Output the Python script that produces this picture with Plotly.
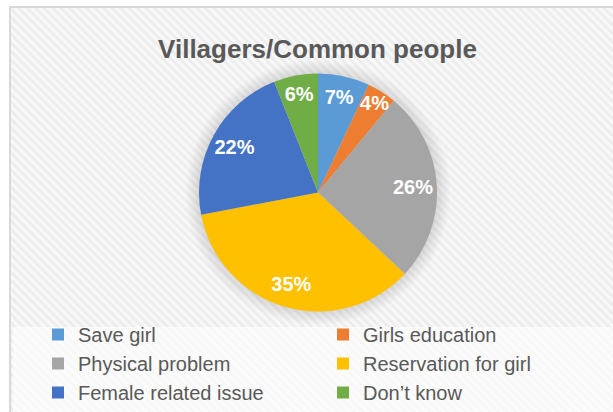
import base64
import plotly.graph_objects as go

# ---- data ----
categories = ["Save girl", "Girls education", "Physical problem",
              "Reservation for girl", "Female related issue", "Don’t know"]
values = [7, 4, 26, 35, 22, 6]
colors = ["#5B9BD5", "#ED7D31", "#A5A5A5", "#FFC000", "#4472C4", "#70AD47"]
title_text = "Villagers/Common people"

W, H = 613, 412
cx, cy, r = 318, 192.5, 119
FONT = "Arial, Liberation Sans, sans-serif"

# ---- background (hatched chart area, border, soft pie glow, lighter legend box) ----
svg = f"""<svg xmlns='http://www.w3.org/2000/svg' width='{W}' height='{H}' viewBox='0 0 {W} {H}'>
<defs>
<pattern id='p' width='6' height='6' patternUnits='userSpaceOnUse' patternTransform='rotate(-45)'>
<rect width='6' height='6' fill='#f8f8f8'/><rect width='3' height='6' fill='#ededed'/>
</pattern>
<radialGradient id='g' cx='{cx}' cy='{cy}' r='{r+14}' gradientUnits='userSpaceOnUse'>
<stop offset='0' stop-color='#000' stop-opacity='0.14'/>
<stop offset='{r/(r+14):.3f}' stop-color='#000' stop-opacity='0.12'/>
<stop offset='1' stop-color='#000' stop-opacity='0'/>
</radialGradient>
</defs>
<rect width='{W}' height='{H}' fill='#ffffff'/>
<rect x='10' y='7' width='{W+20}' height='{H+20}' fill='url(#p)' stroke='#d9d9d9' stroke-width='2'/>
<circle cx='{cx}' cy='{cy}' r='{r+14}' fill='url(#g)'/>
<rect x='13' y='327' width='{W}' height='{H}' fill='#ffffff' fill-opacity='0.6'/>
</svg>"""
src = "data:image/svg+xml;base64," + base64.b64encode(svg.encode()).decode()

domain = dict(x=[(cx - r) / W, (cx + r) / W], y=[(H - cy - r) / H, (H - cy + r) / H])

# filled pie (slices + legend)
pie = go.Pie(
    labels=categories,
    values=values,
    sort=False,
    direction="clockwise",
    rotation=0,
    marker=dict(colors=colors, line=dict(width=0)),
    textinfo="none",
    hoverinfo="label+percent",
    domain=domain,
)
# transparent ring carrying the percentage labels (places them near 0.8 r like Excel)
labels_ring = go.Pie(
    labels=categories,
    values=values,
    sort=False,
    direction="clockwise",
    rotation=0,
    hole=0.6,
    marker=dict(colors=["rgba(0,0,0,0)"] * len(values), line=dict(width=0)),
    texttemplate="%{percent:.0%}",
    textposition="inside",
    insidetextorientation="horizontal",
    textfont=dict(family=FONT, size=20, color="white", weight="bold"),
    hoverinfo="skip",
    showlegend=False,
    domain=domain,
)

fig = go.Figure([pie, labels_ring])

fig.update_layout(
    width=W, height=H,
    margin=dict(l=0, r=0, t=0, b=0),
    paper_bgcolor="rgba(0,0,0,0)",
    plot_bgcolor="rgba(0,0,0,0)",
    images=[dict(source=src, xref="paper", yref="paper", x=0, y=1, sizex=1, sizey=1,
                 xanchor="left", yanchor="top", sizing="stretch", layer="below")],
    title=dict(text=f"<b>{title_text}</b>", x=317.5 / W, xanchor="center",
               y=(H - 49) / H, yanchor="middle",
               font=dict(family=FONT, size=26, color="#595959")),
    uniformtext=dict(minsize=20, mode="show"),
    showlegend=True,
    legend=dict(orientation="h", x=38 / W, xanchor="left", y=0, yanchor="bottom",
                entrywidth=240, entrywidthmode="pixels", traceorder="normal",
                bgcolor="rgba(0,0,0,0)",
                font=dict(family=FONT, size=20, color="#595959")),
)

fig.write_html("out.html", config={"displayModeBar": False},
               post_script="document.body.style.margin='0';document.body.style.overflow='hidden';")
